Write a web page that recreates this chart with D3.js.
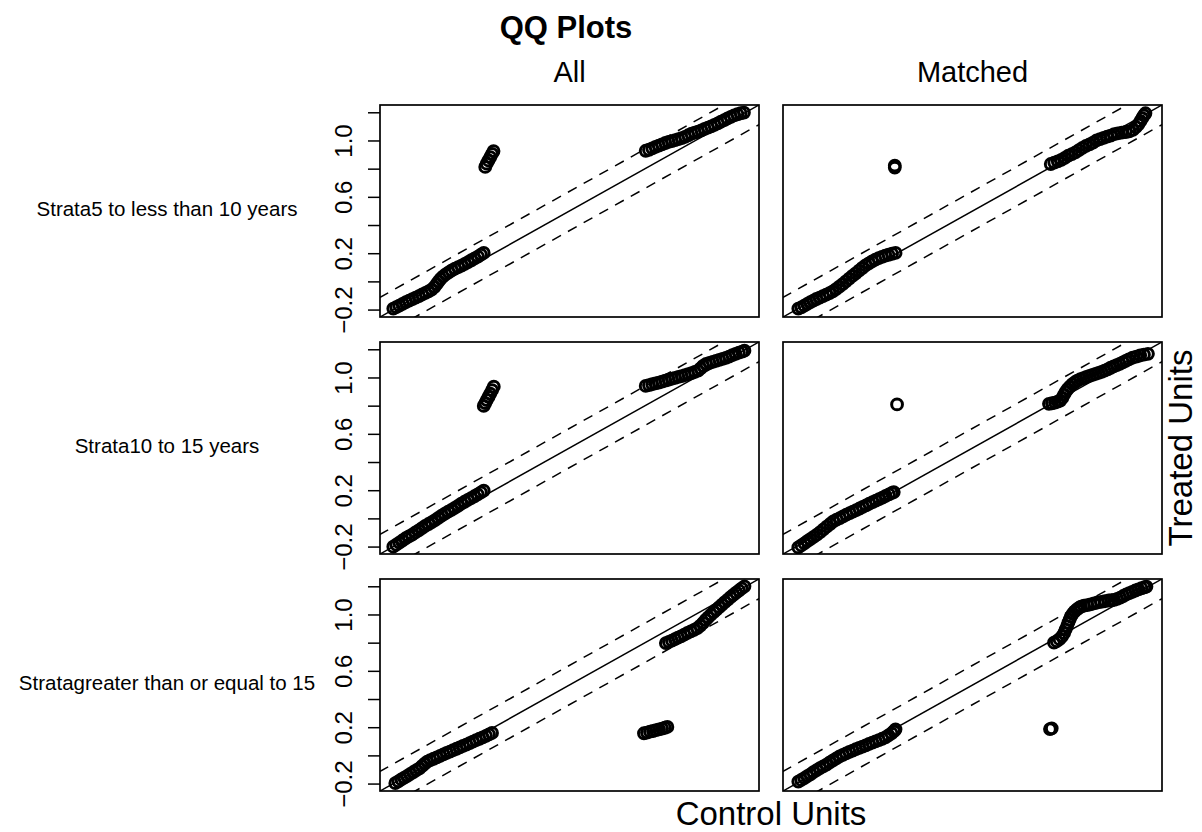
<!DOCTYPE html>
<html>
<head>
<meta charset="utf-8">
<script src="https://cdn.jsdelivr.net/npm/d3@7"></script>
<style>
  body { margin: 0; background: #fff; }
  svg { font-family: "Liberation Sans", Arial, Helvetica, sans-serif; }
</style>
</head>
<body>
<div class="canvas"></div>
<script>
// common value range of the jittered strata dummies
const valueRange = [-0.197, 1.196];
const yTicks = [-0.2, 0, 0.2, 0.4, 0.6, 0.8, 1.0, 1.2];
const yTickLabels = ["-0.2", "", "0.2", "", "0.6", "", "1.0", ""];
const columns = ["All", "Matched"];
const rows = ["Strata5 to less than 10 years", "Strata10 to 15 years", "Stratagreater than or equal to 15"];

// All, strata 5 to <10
const allS5_ctrl = [-0.200,-0.188,-0.176,-0.163,-0.150,-0.137,-0.124,-0.111,-0.098,-0.085,-0.072,-0.060,-0.048,-0.037,-0.028,-0.020,-0.012,-0.003,0.008,0.020,0.032,0.045,0.058,0.071,0.084,0.097,0.110,0.123,0.136,0.148,0.159,
  0.165,0.171,0.178,0.185,0.192,0.198,
  0.802,0.815,0.828,0.841,0.854,0.867,0.880,0.893,0.906,0.919,0.932,0.945,0.958,0.971,0.984,0.997,1.010,1.023,1.036,1.049,1.062,1.075,1.088,1.101,1.114,1.127,1.140,1.153,1.166,1.179,1.192];
const allS5_trt = [-0.193,-0.183,-0.172,-0.160,-0.148,-0.137,-0.126,-0.115,-0.104,-0.093,-0.082,-0.071,-0.058,-0.040,-0.020,0.000,0.018,0.034,0.050,0.064,0.078,0.090,0.101,0.112,0.124,0.137,0.150,0.163,0.176,0.190,0.202,
  0.812,0.835,0.858,0.882,0.905,0.925,
  0.927,0.934,0.944,0.955,0.964,0.972,0.982,0.990,0.996,1.003,1.009,1.016,1.026,1.037,1.048,1.056,1.063,1.072,1.082,1.091,1.100,1.110,1.121,1.133,1.144,1.156,1.168,1.178,1.186,1.193,1.198];

// Matched, strata 5 to <10
const matS5_ctrl = [-0.192,-0.180,-0.168,-0.156,-0.144,-0.132,-0.120,-0.107,-0.094,-0.081,-0.068,-0.055,-0.042,-0.029,-0.016,-0.003,0.010,0.023,0.036,0.049,0.062,0.075,0.088,0.101,0.114,0.127,0.140,0.153,0.166,0.180,0.194,
  0.191,0.191,
  0.810,0.824,0.838,0.852,0.866,0.880,0.894,0.908,0.922,0.936,0.950,0.964,0.978,0.992,1.006,1.020,1.034,1.048,1.062,1.076,1.092,1.108,1.122,1.136,1.148,1.158,1.166,1.173,1.180,1.186];
const matS5_trt = [-0.193,-0.184,-0.172,-0.160,-0.147,-0.136,-0.125,-0.115,-0.105,-0.094,-0.084,-0.071,-0.055,-0.037,-0.019,0.000,0.020,0.039,0.057,0.076,0.095,0.113,0.128,0.142,0.154,0.165,0.174,0.182,0.189,0.196,0.202,
  0.808,0.822,
  0.833,0.843,0.852,0.862,0.877,0.893,0.903,0.915,0.932,0.948,0.962,0.972,0.985,1.000,1.010,1.018,1.027,1.035,1.045,1.051,1.056,1.060,1.064,1.075,1.094,1.115,1.137,1.158,1.178,1.193];

// All, strata 10 to 15
const allS10_ctrl = [-0.200,-0.188,-0.176,-0.164,-0.151,-0.138,-0.125,-0.112,-0.099,-0.086,-0.073,-0.060,-0.047,-0.034,-0.021,-0.008,0.005,0.018,0.031,0.044,0.057,0.070,0.083,0.096,0.109,0.122,0.135,0.148,0.159,
  0.159,0.165,0.171,0.178,0.185,0.192,0.199,
  0.802,0.815,0.828,0.841,0.854,0.867,0.880,0.893,0.906,0.919,0.932,0.945,0.958,0.971,0.984,0.997,1.010,1.020,1.030,1.042,1.055,1.068,1.081,1.094,1.107,1.120,1.133,1.146,1.159,1.172,1.185,1.194];
const allS10_trt = [-0.201,-0.187,-0.172,-0.157,-0.141,-0.128,-0.116,-0.100,-0.085,-0.069,-0.053,-0.040,-0.027,-0.012,0.003,0.019,0.033,0.048,0.060,0.074,0.089,0.104,0.118,0.131,0.144,0.157,0.170,0.184,0.197,
  0.798,0.818,0.840,0.862,0.885,0.910,0.935,
  0.940,0.946,0.952,0.958,0.964,0.970,0.977,0.984,0.991,0.997,1.004,1.010,1.017,1.024,1.031,1.039,1.048,1.064,1.082,1.096,1.104,1.111,1.118,1.125,1.132,1.139,1.148,1.158,1.167,1.176,1.184,1.190];

// Matched, strata 10 to 15
const matS10_ctrl = [-0.192,-0.180,-0.168,-0.156,-0.144,-0.131,-0.118,-0.105,-0.092,-0.079,-0.066,-0.053,-0.040,-0.027,-0.014,-0.001,0.012,0.025,0.038,0.051,0.064,0.077,0.090,0.103,0.116,0.129,0.142,0.155,0.168,0.180,0.187,
  0.200,
  0.803,0.815,0.827,0.838,0.848,0.856,0.863,0.870,0.877,0.886,0.896,0.906,0.916,0.928,0.940,0.952,0.964,0.976,0.988,1.000,1.012,1.024,1.036,1.048,1.060,1.072,1.084,1.096,1.108,1.120,1.135,1.150,1.165,1.180,1.196];
const matS10_trt = [-0.206,-0.192,-0.177,-0.162,-0.147,-0.131,-0.116,-0.097,-0.078,-0.059,-0.040,-0.022,-0.009,0.002,0.014,0.026,0.037,0.048,0.059,0.070,0.081,0.093,0.104,0.115,0.126,0.137,0.148,0.159,0.170,0.181,0.187,
  0.809,
  0.813,0.817,0.822,0.828,0.836,0.855,0.878,0.900,0.918,0.935,0.952,0.966,0.978,0.988,0.996,1.004,1.011,1.018,1.025,1.032,1.040,1.048,1.058,1.069,1.079,1.088,1.097,1.107,1.118,1.129,1.140,1.148,1.156,1.162,1.168];

// All, strata >= 15
const allS15_ctrl = [-0.192,-0.180,-0.168,-0.156,-0.144,-0.132,-0.120,-0.108,-0.096,-0.085,-0.075,-0.065,-0.053,-0.040,-0.027,-0.014,-0.001,0.012,0.025,0.038,0.051,0.064,0.077,0.090,0.103,0.116,0.129,0.142,0.155,0.168,0.180,0.192,
  0.795,0.807,0.819,0.831,0.843,0.855,0.867,0.878,0.888,
  0.882,0.894,0.906,0.918,0.930,0.942,0.955,0.968,0.981,0.994,1.007,1.019,1.030,1.040,1.050,1.061,1.072,1.083,1.094,1.105,1.116,1.128,1.139,1.150,1.161,1.172,1.183,1.194];
const allS15_trt = [-0.197,-0.184,-0.171,-0.158,-0.145,-0.132,-0.118,-0.105,-0.092,-0.075,-0.058,-0.044,-0.034,-0.024,-0.014,-0.004,0.007,0.017,0.027,0.037,0.047,0.057,0.067,0.077,0.087,0.098,0.108,0.118,0.128,0.139,0.149,0.159,
  0.157,0.162,0.168,0.173,0.179,0.184,0.190,0.196,0.202,
  0.797,0.806,0.815,0.825,0.835,0.845,0.857,0.869,0.880,0.891,0.903,0.921,0.941,0.961,0.980,0.999,1.016,1.034,1.052,1.070,1.088,1.106,1.123,1.139,1.155,1.170,1.185,1.200];

// Matched, strata >= 15
const matS15_ctrl = [-0.192,-0.180,-0.168,-0.156,-0.144,-0.132,-0.119,-0.106,-0.093,-0.080,-0.067,-0.054,-0.041,-0.028,-0.015,-0.002,0.011,0.024,0.037,0.050,0.063,0.076,0.089,0.102,0.115,0.128,0.141,0.154,0.166,0.178,0.188,0.194,
  0.807,0.814,
  0.823,0.834,0.845,0.855,0.863,0.869,0.875,0.880,0.885,0.890,0.897,0.905,0.914,0.922,0.930,0.942,0.955,0.968,0.982,0.996,1.010,1.025,1.040,1.052,1.062,1.074,1.086,1.098,1.110,1.122,1.134,1.146,1.158,1.170,1.182,1.190];
const matS15_trt = [-0.186,-0.174,-0.161,-0.148,-0.135,-0.119,-0.104,-0.091,-0.078,-0.065,-0.050,-0.035,-0.021,-0.007,0.004,0.014,0.025,0.034,0.044,0.053,0.062,0.071,0.081,0.090,0.100,0.109,0.118,0.128,0.142,0.157,0.172,0.185,
  0.187,0.192,
  0.800,0.810,0.825,0.845,0.867,0.892,0.918,0.942,0.963,0.985,1.005,1.022,1.036,1.047,1.056,1.062,1.067,1.071,1.079,1.085,1.090,1.094,1.099,1.101,1.103,1.110,1.120,1.131,1.142,1.152,1.161,1.170,1.178,1.186,1.193,1.198];

const panels = [
  [allS5_ctrl, allS5_trt], [matS5_ctrl, matS5_trt],
  [allS10_ctrl, allS10_trt], [matS10_ctrl, matS10_trt],
  [allS15_ctrl, allS15_trt], [matS15_ctrl, matS15_trt]
];

const W = 1202, H = 832;
const colLeft = [380, 783];
const rowTop = [105, 342, 579];
const pw = 379, ph = 212;

const svg = d3.select(".canvas").append("svg").attr("width", W).attr("height", H);

let span = valueRange[1] - valueRange[0];
let dom = [valueRange[0] - 0.04 * span, valueRange[1] + 0.04 * span];
let x = d3.scaleLinear().domain(dom).range([0, pw]);
let y = d3.scaleLinear().domain(dom).range([ph, 0]);

svg.append("defs").append("clipPath").attr("id", "clip")
  .append("rect").attr("width", pw).attr("height", ph);

let line = d3.line().x((d) => x(d[0])).y((d) => y(d[1]));

panels.forEach((p, i) => {
  let r = Math.floor(i / 2), c = i % 2;
  let g = svg.append("g").attr("transform", `translate(${colLeft[c]},${rowTop[r]})`);
  let plot = g.append("g").attr("clip-path", "url(#clip)");

  // 45 degree line and +/- 10% bands
  [0, 0.1 * span, -0.1 * span].forEach((off, k) => {
    plot.append("path")
      .attr("d", line([[dom[0] - 1, dom[0] - 1 + off], [dom[1] + 1, dom[1] + 1 + off]]))
      .attr("fill", "none")
      .attr("stroke", "#000")
      .attr("stroke-width", 1.5)
      .attr("stroke-dasharray", k == 0 ? null : "10,8");
  });

  let pts = p[0].map((v, j) => [v, p[1][j]]);
  plot.selectAll("circle").data(pts).join("circle")
    .attr("cx", (d) => x(d[0]))
    .attr("cy", (d) => y(d[1]))
    .attr("r", 5.4)
    .attr("fill", "none")
    .attr("stroke", "#000")
    .attr("stroke-width", 3);

  g.append("rect").attr("width", pw).attr("height", ph)
    .attr("fill", "none").attr("stroke", "#000").attr("stroke-width", 1.7);

  if (c == 0) {
    let ax = g.append("g").call(
      d3.axisLeft(y).tickValues(yTicks).tickSize(12).tickSizeOuter(0)
        .tickFormat((d, k) => yTickLabels[k].replace("-", "\u2212"))
    );
    ax.select(".domain").remove();
    ax.selectAll("line").attr("stroke-width", 1.5);
    ax.selectAll("text")
      .attr("transform", "rotate(-90)")
      .attr("x", 0).attr("y", -28).attr("dy", 0)
      .attr("text-anchor", "middle")
      .style("font-size", "24px")
      .style("font-family", '"Liberation Sans", Arial, sans-serif')
      .attr("fill", "#000");

    svg.append("text")
      .attr("x", 167).attr("y", rowTop[r] + ph / 2 + 5)
      .attr("text-anchor", "middle")
      .style("font-size", "20.5px")
      .text(rows[r]);
  }
});

columns.forEach((t, c) => {
  svg.append("text")
    .attr("x", colLeft[c] + pw / 2).attr("y", 82)
    .attr("text-anchor", "middle")
    .style("font-size", "29px")
    .text(t);
});

svg.append("text")
  .attr("x", 566).attr("y", 38)
  .attr("text-anchor", "middle")
  .style("font-size", "31px").style("font-weight", 700)
  .text("QQ Plots");

svg.append("text")
  .attr("x", (colLeft[0] + colLeft[1] + pw) / 2).attr("y", 825)
  .attr("text-anchor", "middle")
  .style("font-size", "33px")
  .text("Control Units");

svg.append("text")
  .attr("transform", `translate(1192,${(rowTop[0] + rowTop[2] + ph) / 2}) rotate(-90)`)
  .attr("text-anchor", "middle")
  .style("font-size", "33px")
  .text("Treated Units");
</script>
</body>
</html>
